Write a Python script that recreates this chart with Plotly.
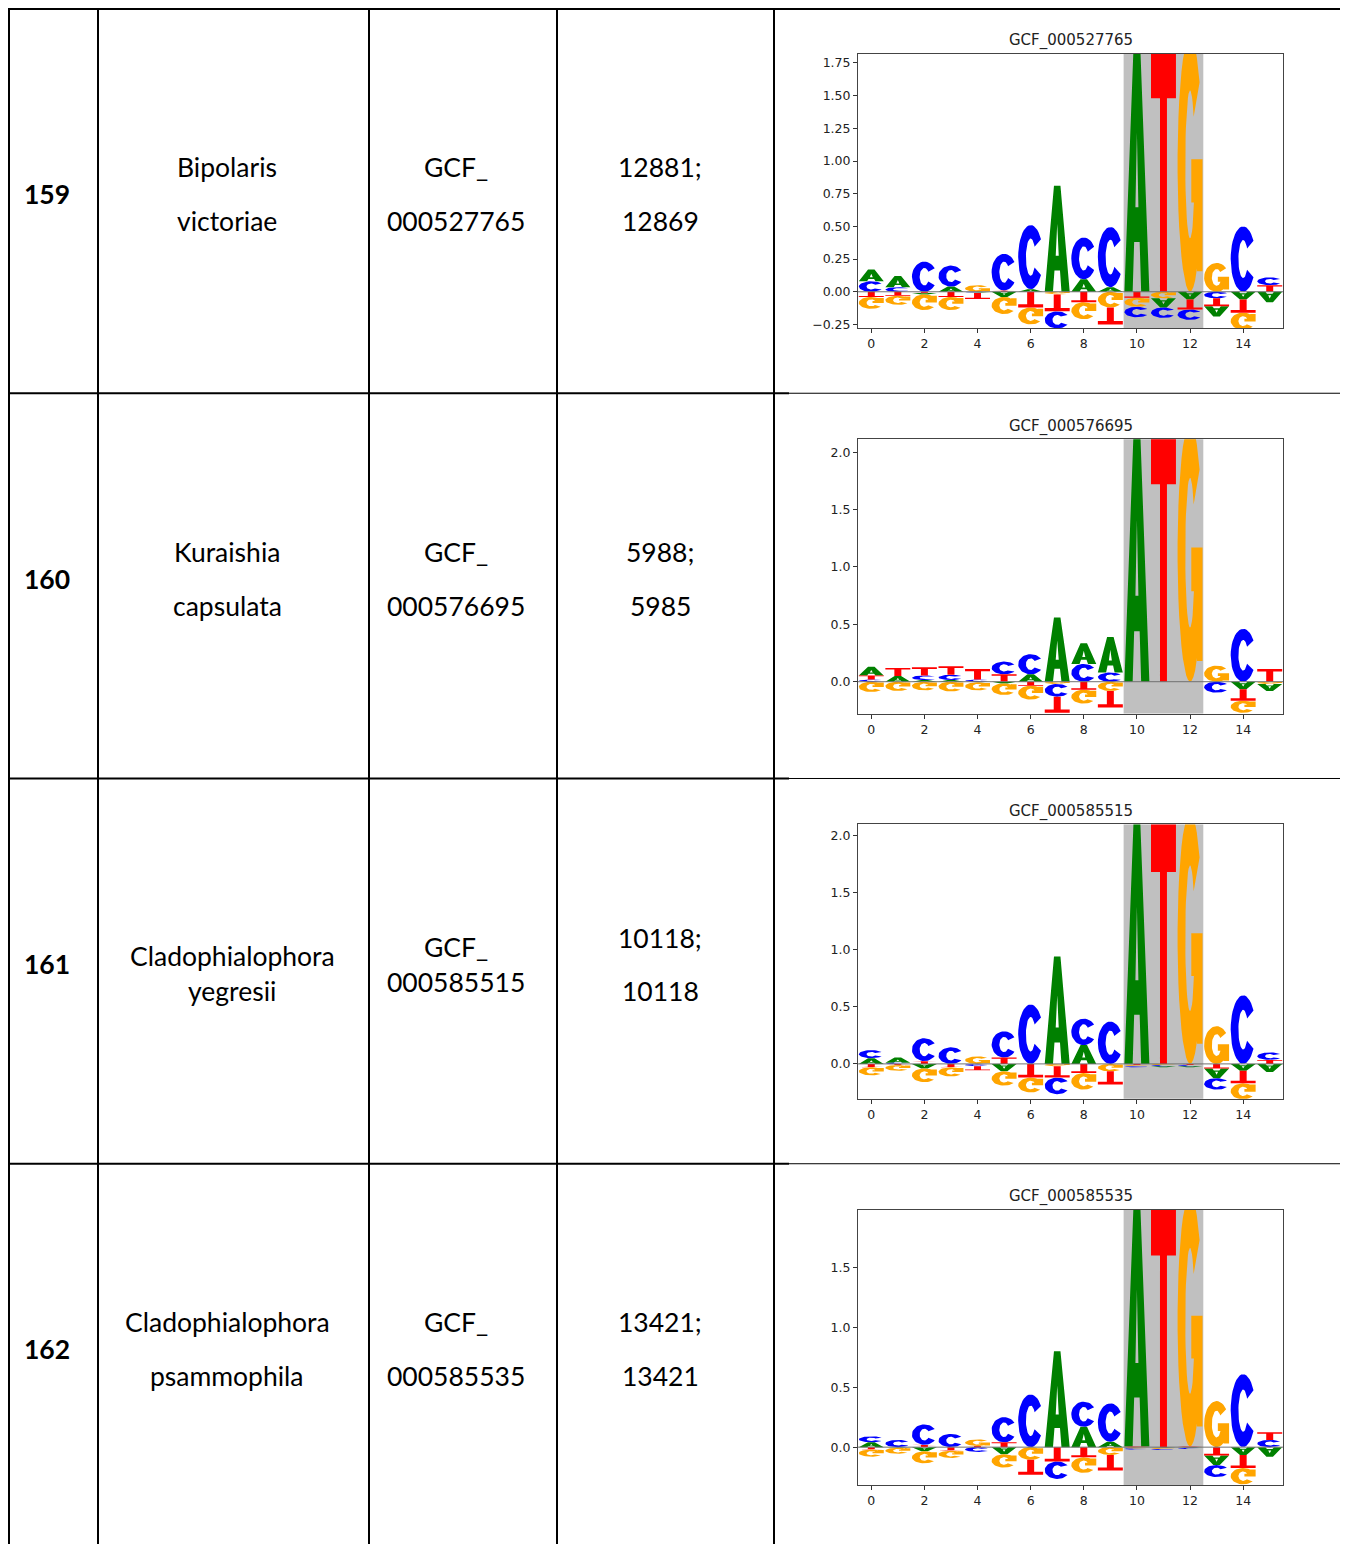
import math
import plotly.graph_objects as go

W, H = 1348, 1544
OFF = 8  # page body margin, the figure starts 8px in

# ---- table text ----
row_ids = ["159", "160", "161", "162"]
species = [["Bipolaris", "victoriae"], ["Kuraishia", "capsulata"],
           ["Cladophialophora", "yegresii"], ["Cladophialophora", "psammophila"]]
accessions = [["GCF_", "000527765"], ["GCF_", "000576695"],
              ["GCF_", "000585515"], ["GCF_", "000585535"]]
counts = [["12881;", "12869"], ["5988;", "5985"], ["10118;", "10118"], ["13421;", "13421"]]
logo_titles = ["GCF_000527765", "GCF_000576695", "GCF_000585515", "GCF_000585535"]

# ---- logo values (positions 0..15) ----
positions = list(range(16))

A_159 = [0.09, 0.085, -0.01, 0.04, -0.005, -0.04, 0.02, 0.81, 0.095, 0.035, 1.9, -0.07, -0.06, -0.08, -0.06, -0.08]
C_159 = [0.08, 0.035, 0.23, 0.16, -0.005, 0.28, 0.49, -0.13, 0.32, 0.46, -0.08, -0.08, -0.08, -0.05, 0.5, 0.06]
G_159 = [-0.09, -0.07, -0.12, -0.10, 0.05, -0.13, -0.13, -0.02, -0.13, -0.12, -0.07, -0.05, 1.95, 0.22, -0.13, 0.0]
T_159 = [-0.04, -0.03, -0.01, -0.04, -0.045, 0.01, -0.12, -0.13, -0.08, -0.13, -0.045, 1.85, -0.075, -0.06, -0.10, 0.05]

A_160 = [0.075, 0.05, 0.015, 0.015, -0.005, -0.015, 0.065, 0.56, 0.18, 0.31, 2.2, 0.0, 0.0, 0.0, -0.065, -0.06]
C_160 = [0.02, 0.0, 0.04, 0.045, 0.02, 0.11, 0.175, -0.11, 0.155, 0.08, 0.0, 0.0, 0.0, -0.095, 0.46, 0.0]
G_160 = [-0.09, -0.08, -0.075, -0.085, -0.07, -0.10, -0.12, -0.02, -0.12, -0.08, 0.0, 0.0, 2.25, 0.14, -0.105, -0.02]
T_160 = [0.035, 0.07, 0.07, 0.075, 0.09, 0.065, -0.035, -0.14, -0.07, -0.145, 0.0, 2.15, 0.0, 0.0, -0.10, 0.11]

A_161 = [0.05, 0.045, -0.04, 0.0, 0.0, -0.065, 0.0, 0.94, 0.165, 0.0, 2.15, -0.01, -0.01, -0.085, -0.06, -0.07]
C_161 = [0.07, 0.01, 0.2, 0.145, -0.02, 0.23, 0.52, -0.145, 0.23, 0.37, -0.01, -0.01, -0.01, -0.10, 0.6, 0.065]
G_161 = [-0.07, -0.05, -0.12, -0.08, 0.065, -0.125, -0.13, -0.02, -0.145, -0.065, -0.01, -0.01, 2.2, 0.33, -0.14, 0.0]
T_161 = [-0.03, -0.01, 0.025, -0.03, -0.035, 0.055, -0.12, -0.10, -0.08, -0.115, -0.01, 2.1, -0.01, -0.04, -0.11, 0.035]

A_162 = [0.04, -0.005, -0.035, 0.0, 0.0, -0.06, 0.0, 0.8, 0.17, 0.045, 2.05, -0.005, -0.005, -0.08, -0.065, -0.08]
C_162 = [0.05, 0.06, 0.17, 0.11, -0.04, 0.21, 0.44, -0.145, 0.21, 0.32, -0.01, -0.01, -0.01, -0.10, 0.61, 0.06]
G_162 = [-0.06, -0.05, -0.10, -0.06, 0.055, -0.11, -0.105, 0.0, -0.13, -0.065, -0.01, -0.01, 2.1, 0.385, -0.135, 0.0]
T_162 = [-0.02, 0.0, 0.02, -0.03, 0.01, 0.04, -0.125, -0.12, -0.085, -0.13, 0.005, 2.0, 0.005, -0.07, -0.11, 0.065]

logos = [
    {"A": A_159, "C": C_159, "G": G_159, "T": T_159},
    {"A": A_160, "C": C_160, "G": G_160, "T": T_160},
    {"A": A_161, "C": C_161, "G": G_161, "T": T_161},
    {"A": A_162, "C": C_162, "G": G_162, "T": T_162},
]

ytick_159 = [-0.25, 0.0, 0.25, 0.5, 0.75, 1.0, 1.25, 1.5, 1.75]
ytext_159 = ["\u22120.25", "0.00", "0.25", "0.50", "0.75", "1.00", "1.25", "1.50", "1.75"]
ytick_2 = [0.0, 0.5, 1.0, 1.5, 2.0]
ytext_2 = ["0.0", "0.5", "1.0", "1.5", "2.0"]
ytick_162 = [0.0, 0.5, 1.0, 1.5]
ytext_162 = ["0.0", "0.5", "1.0", "1.5"]
yticks = [(ytick_159, ytext_159), (ytick_2, ytext_2), (ytick_2, ytext_2), (ytick_162, ytext_162)]
yranges = [[-0.280, 1.819], [-0.278, 2.113], [-0.306, 2.096], [-0.317, 1.983]]
xticks = [0, 2, 4, 6, 8, 10, 12, 14]

colors = {"A": "#008000", "C": "#0000ff", "G": "#ffa500", "T": "#ff0000"}


# ---- letter outlines in a unit box ----
def ring(a0, a1, rx, ry, n=36):
    pts = []
    for i in range(n + 1):
        t = math.radians(a0 + (a1 - a0) * i / n)
        pts.append((0.5 + 0.5 * math.cos(t), 0.5 + 0.5 * math.sin(t)))
    for i in range(n + 1):
        t = math.radians(a1 - (a1 - a0) * i / n)
        pts.append((0.5 + rx * math.cos(t), 0.5 + ry * math.sin(t)))
    return pts


GLYPHS = {
    "A": [[(0, 0), (0.37, 1), (0.63, 1), (1, 0), (0.67, 0), (0.61, 0.2), (0.39, 0.2), (0.33, 0)],
          [(0.44, 0.34), (0.56, 0.34), (0.5, 0.64)]],
    "C": [ring(34, 326, 0.19, 0.29)],
    "G": [ring(40, 345, 0.19, 0.29),
          [(0.55, 0.35), (1, 0.35), (1, 0.52), (0.55, 0.52)],
          [(0.78, 0.08), (1, 0.08), (1, 0.52), (0.78, 0.52)]],
    "T": [[(0.36, 0), (0.64, 0), (0.64, 0.8), (1, 0.8), (1, 1), (0, 1), (0, 0.8), (0.36, 0.8)]],
}


def add_letter(xs, ys, letter, pos, lo, hi, flip, width=0.94):
    for poly in GLYPHS[letter]:
        for gx, gy in poly + [poly[0]]:
            xs.append(pos - width / 2 + gx * width)
            ys.append(lo + ((1 - gy) if flip else gy) * (hi - lo))
        xs.append(None)
        ys.append(None)


fig = go.Figure()

col_lines = [9, 98, 369, 557, 774]
row_lines = [8, 394, 780, 1166]
ax_x = [858, 1283]
ax_tops = [54, 440, 826, 1212]
ax_bots = [329, 715, 1101, 1488]

FW, FH = W - OFF, H - OFF


def px(x):
    return (x - OFF) / FW


def py(y):
    return 1 - (y - OFF) / FH


shapes = []
annotations = []

for k, logo in enumerate(logos):
    xa = "x" if k == 0 else f"x{k + 1}"
    ya = "y" if k == 0 else f"y{k + 1}"
    paths = {l: ([], []) for l in "ACGT"}
    for p in positions:
        vals = [(logo[l][p], l) for l in "ACGT"]
        pos_v = sorted([v for v in vals if v[0] > 0])
        neg_v = sorted([v for v in vals if v[0] < 0], reverse=True)
        cur = 0.0
        for v, l in pos_v:
            add_letter(*paths[l], l, p, cur, cur + v, False)
            cur += v
        cur = 0.0
        for v, l in neg_v:
            add_letter(*paths[l], l, p, cur + v, cur, True)
            cur += v
    for l in "ACGT":
        xs, ys = paths[l]
        fig.add_trace(go.Scatter(x=xs, y=ys, mode="lines", fill="toself",
                                 fillcolor=colors[l], line=dict(width=0, color=colors[l]),
                                 hoverinfo="skip", showlegend=False, xaxis=xa, yaxis=ya))

    axis_font = dict(family="DejaVu Sans", size=12.5, color="#222")
    fig.layout[("xaxis" if k == 0 else f"xaxis{k + 1}")] = dict(
        domain=[px(ax_x[0]), px(ax_x[1])], anchor=ya, range=[-0.5, 15.5],
        tickvals=xticks, ticks="outside", ticklen=4, tickcolor="#333",
        showline=True, mirror=True, linecolor="#444", linewidth=1,
        showgrid=False, zeroline=False, tickfont=axis_font, fixedrange=True)
    tv, tt = yticks[k]
    fig.layout[("yaxis" if k == 0 else f"yaxis{k + 1}")] = dict(
        domain=[py(ax_bots[k]), py(ax_tops[k])], anchor=xa, range=yranges[k],
        tickvals=tv, ticktext=tt, ticks="outside", ticklen=4, tickcolor="#333",
        showline=True, mirror=True, linecolor="#444", linewidth=1,
        showgrid=False, zeroline=False, tickfont=axis_font, fixedrange=True)

    # highlighted start codon window
    shapes.append(dict(type="rect", xref=xa, yref=f"{ya} domain", x0=9.5, x1=12.5, y0=0, y1=1,
                       fillcolor="#c0c0c0", line=dict(width=0), layer="below"))
    # baseline
    shapes.append(dict(type="line", xref=f"{xa} domain", yref=ya, x0=0, x1=1, y0=0, y1=0,
                       line=dict(color="#707070", width=1), layer="above"))
    annotations.append(dict(text=logo_titles[k], xref="paper", yref="paper",
                            x=px((ax_x[0] + ax_x[1]) / 2), y=py(ax_tops[k] - 13),
                            xanchor="center", yanchor="middle", showarrow=False,
                            font=dict(family="DejaVu Sans", size=15, color="#222")))

# ---- table grid ----
for x in col_lines:
    shapes.append(dict(type="line", xref="paper", yref="paper", x0=px(x), x1=px(x),
                       y0=py(8), y1=py(H + 5), line=dict(color="black", width=2)))
shapes.append(dict(type="line", xref="paper", yref="paper", x0=px(8), x1=px(W),
                   y0=py(9), y1=py(9), line=dict(color="black", width=2)))
for y in row_lines[1:]:
    shapes.append(dict(type="line", xref="paper", yref="paper", x0=px(8), x1=px(789),
                       y0=py(y), y1=py(y), line=dict(color="black", width=2)))
    shapes.append(dict(type="line", xref="paper", yref="paper", x0=px(789), x1=px(W),
                       y0=py(y), y1=py(y), line=dict(color="black", width=1)))

# ---- table text ----
cell_font = dict(family="Lato", size=26.5, color="black")
bold_font = dict(family="Lato", size=26.5, color="black", weight="bold")


def txt(s, x, y, font):
    annotations.append(dict(text=s, xref="paper", yref="paper", x=px(x), y=py(y),
                            xanchor="center", yanchor="middle", showarrow=False, font=font))


for k in range(4):
    top = row_lines[k]
    txt(row_ids[k], 47, top + 186, bold_font)
    if k == 2:
        txt(species[k][0], 232, top + 178, cell_font)
        txt(species[k][1], 232, top + 213, cell_font)
        txt(accessions[k][0], 456, top + 169, cell_font)
        txt(accessions[k][1], 456, top + 204, cell_font)
        txt(counts[k][0], 660, top + 160, cell_font)
        txt(counts[k][1], 660, top + 213, cell_font)
    else:
        txt(species[k][0], 227, top + 159, cell_font)
        txt(species[k][1], 227, top + 213, cell_font)
        txt(accessions[k][0], 456, top + 159, cell_font)
        txt(accessions[k][1], 456, top + 213, cell_font)
        txt(counts[k][0], 660, top + 159, cell_font)
        txt(counts[k][1], 660, top + 213, cell_font)

fig.update_layout(width=FW, height=FH, margin=dict(l=0, r=0, t=0, b=0),
                  paper_bgcolor="white", plot_bgcolor="white",
                  shapes=shapes, annotations=annotations, showlegend=False)

fig.write_html("out.html")
